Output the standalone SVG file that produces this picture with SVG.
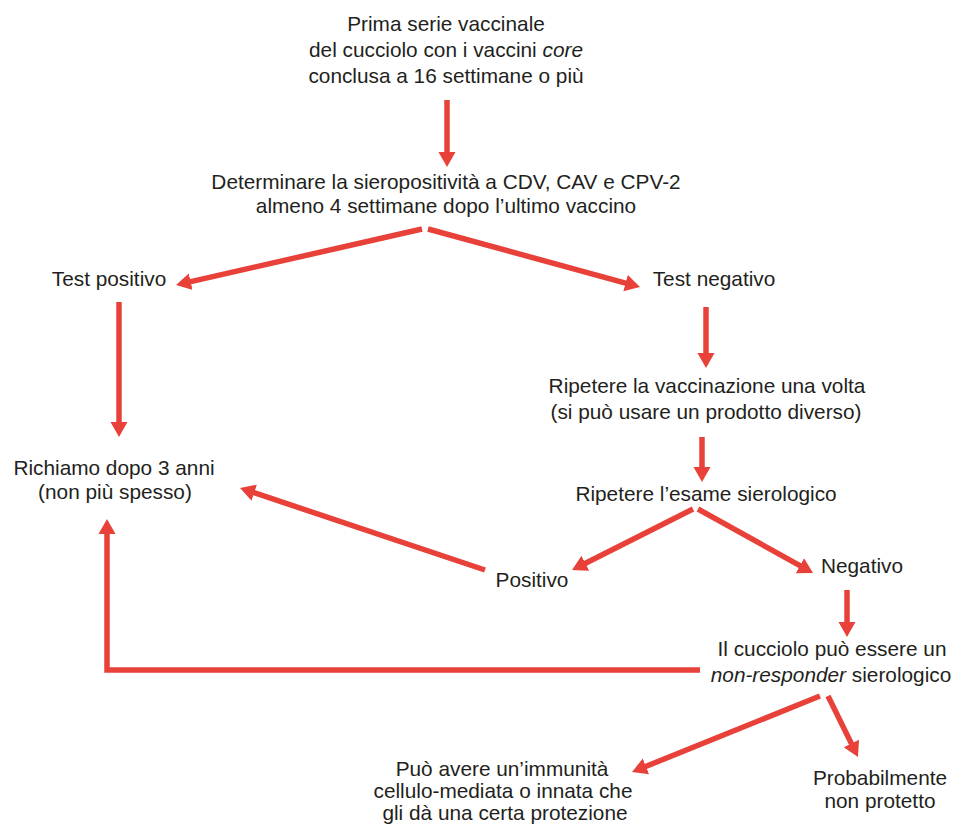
<svg xmlns="http://www.w3.org/2000/svg" width="957" height="832" viewBox="0 0 957 832">
<defs>
<marker id="ah" viewBox="0 -9 16 18" markerWidth="16" markerHeight="18" refX="1" refY="0" orient="auto" markerUnits="userSpaceOnUse">
<path d="M0,-8.5 L15,0 L0,8.5 z" fill="#e8413a"/>
</marker>
<style>
text{font-family:"Liberation Sans",Arial,Helvetica,sans-serif;font-size:20.8px;fill:#231f20;text-anchor:middle}
.i{font-style:italic}
.c{fill:none;stroke:#e8413a;stroke-width:5.5;marker-end:url(#ah)}
</style>
</defs>
<rect width="957" height="832" fill="#ffffff"/>
<g id="connectors">
<line class="c" x1="447" y1="100" x2="447" y2="153"/>
<line class="c" x1="422" y1="229" x2="189.7" y2="281.9"/>
<line class="c" x1="428" y1="229" x2="626.5" y2="283.3"/>
<line class="c" x1="119" y1="302" x2="119" y2="423"/>
<line class="c" x1="706" y1="307" x2="706" y2="354"/>
<line class="c" x1="702" y1="437" x2="702" y2="468"/>
<line class="c" x1="693" y1="509" x2="584.5" y2="563.7"/>
<line class="c" x1="698" y1="509" x2="800.8" y2="566.2"/>
<line class="c" x1="485" y1="570" x2="253.3" y2="492.4"/>
<line class="c" x1="847" y1="590" x2="847" y2="623"/>
<polyline class="c" points="700,670 107,670 107,533"/>
<line class="c" x1="820" y1="696" x2="645" y2="766.75"/>
<line class="c" x1="828" y1="696" x2="851.8" y2="744.4"/>
</g>
<g id="n_start">
<text x="446" y="31">Prima serie vaccinale</text>
<text x="446" y="57">del cucciolo con i vaccini <tspan class="i">core</tspan></text>
<text x="446" y="83">conclusa a 16 settimane o più</text>
</g>
<g id="n_determinare">
<text x="446" y="189">Determinare la sieropositività a CDV, CAV e CPV-2</text>
<text x="446" y="213">almeno 4 settimane dopo l’ultimo vaccino</text>
</g>
<g id="n_test_pos">
<text x="109" y="286">Test positivo</text>
</g>
<g id="n_test_neg">
<text x="714" y="286">Test negativo</text>
</g>
<g id="n_ripetere_vacc">
<text x="707" y="393">Ripetere la vaccinazione una volta</text>
<text x="706" y="419">(si può usare un prodotto diverso)</text>
</g>
<g id="n_richiamo">
<text x="114" y="475">Richiamo dopo 3 anni</text>
<text x="115" y="499">(non più spesso)</text>
</g>
<g id="n_ripetere_esame">
<text x="706" y="501">Ripetere l’esame sierologico</text>
</g>
<g id="n_positivo">
<text x="532" y="587">Positivo</text>
</g>
<g id="n_negativo">
<text x="862" y="573">Negativo</text>
</g>
<g id="n_nonresponder">
<text x="832" y="656">Il cucciolo può essere un</text>
<text x="831" y="682"><tspan class="i">non-responder</tspan> sierologico</text>
</g>
<g id="n_immunita">
<text x="502" y="776">Può avere un’immunità</text>
<text x="503" y="798">cellulo-mediata o innata che</text>
<text x="505" y="820">gli dà una certa protezione</text>
</g>
<g id="n_non_protetto">
<text x="880" y="785">Probabilmente</text>
<text x="880" y="808">non protetto</text>
</g>
</svg>
